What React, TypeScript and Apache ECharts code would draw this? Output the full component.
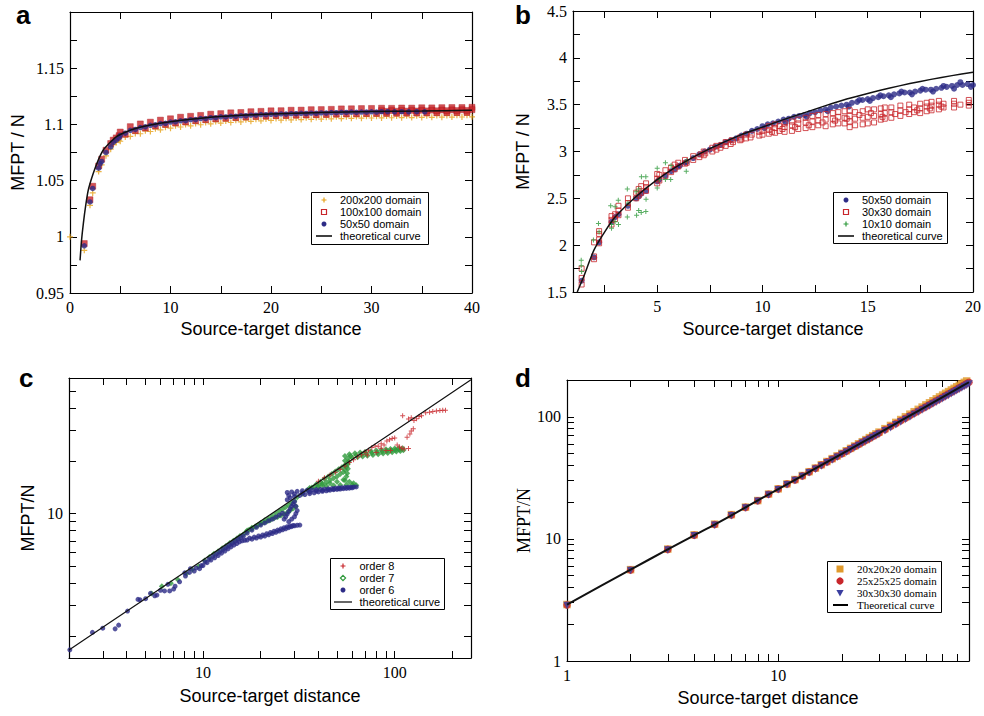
import React, { useEffect, useRef } from 'react';
import * as echarts from 'echarts';

const SANS = 'Liberation Sans, Arial, Helvetica, sans-serif';
const SERIF = 'Liberation Serif, Times New Roman, serif';
const ORANGE = '#e6a117';
const RED = '#c8262b';
const NAVY = '#2c2b86';
const GREEN = '#2f9a3c';
const D_ORANGE = '#e09a2c';
const D_BLUE = '#3a3ea0';
const CROSS = 'path://M2,0L3,0L3,2L5,2L5,3L3,3L3,5L2,5L2,3L0,3L0,2L2,2Z';

// ---------------- Panel a ----------------
const aTheoryX = [1.0, 1.15, 1.33, 1.55, 1.82, 2.3, 2.8, 3.3, 4, 4.6, 5.5, 6.6, 8, 10, 12.5, 15, 20, 25, 30, 35, 40];
const aTheoryY = [0.979, 0.997, 1.012, 1.027, 1.0416, 1.056, 1.068, 1.077, 1.084, 1.089, 1.093, 1.0965, 1.0995, 1.1024, 1.105, 1.107, 1.1093, 1.1105, 1.1115, 1.112, 1.1125];
const aIntX = [5, 6, 7, 8, 9, 10, 11, 12, 13, 14, 15, 16, 17, 18, 19, 20, 21, 22, 23, 24, 25, 26, 27, 28, 29, 30, 31, 32, 33, 34, 35, 36, 37, 38, 39, 40];
const aHalfX = [5.5, 6.5, 7.5, 8.5, 9.5, 10.5, 11.5, 12.5, 13.5, 14.5, 15.5, 16.5, 17.5, 18.5, 19.5, 20.5, 21.5, 22.5, 23.5, 24.5, 25.5, 26.5, 27.5, 28.5, 29.5, 30.5, 31.5, 32.5, 33.5, 34.5, 35.5, 36.5, 37.5, 38.5, 39.5];
const aOrangeInt = [1.0850, 1.0893, 1.0917, 1.0937, 1.0952, 1.0966, 1.0977, 1.0987, 1.0997, 1.1005, 1.1012, 1.1017, 1.1022, 1.1027, 1.1032, 1.1035, 1.1038, 1.1040, 1.1043, 1.1045, 1.1047, 1.1050, 1.1052, 1.1054, 1.1055, 1.1057, 1.1058, 1.1059, 1.1060, 1.1061, 1.1062, 1.1063, 1.1064, 1.1065, 1.1066, 1.1067];
const aOrangeHalf = [1.0888, 1.0920, 1.0943, 1.0961, 1.0975, 1.0988, 1.0998, 1.1008, 1.1017, 1.1025, 1.1030, 1.1036, 1.1041, 1.1046, 1.1049, 1.1053, 1.1055, 1.1058, 1.1060, 1.1062, 1.1064, 1.1067, 1.1069, 1.1070, 1.1072, 1.1073, 1.1074, 1.1075, 1.1076, 1.1077, 1.1078, 1.1079, 1.1080, 1.1081, 1.1082];
const aRedUpper = [1.0932, 1.0980, 1.1004, 1.1020, 1.1038, 1.1050, 1.1064, 1.1072, 1.1080, 1.1091, 1.1096, 1.1103, 1.1106, 1.1113, 1.1116, 1.1121, 1.1122, 1.1126, 1.1127, 1.1131, 1.1132, 1.1134, 1.1138, 1.1139, 1.1141, 1.1142, 1.1144, 1.1143, 1.1146, 1.1145, 1.1148, 1.1147, 1.1149, 1.1150, 1.1150, 1.1152];
const aRedLower = [1.0912, 1.0944, 1.0967, 1.0985, 1.0999, 1.1012, 1.1022, 1.1032, 1.1041, 1.1049, 1.1054, 1.1060, 1.1065, 1.1070, 1.1073, 1.1077, 1.1079, 1.1082, 1.1084, 1.1086, 1.1088, 1.1091, 1.1093, 1.1094, 1.1096, 1.1097, 1.1098, 1.1099, 1.1100, 1.1101, 1.1102, 1.1103, 1.1104, 1.1105, 1.1106];
const aRedMidX = [31, 32, 33, 34, 35, 36, 37, 38, 39, 40, 31.5, 32.5, 33.5, 34.5, 35.5, 36.5, 37.5, 38.5, 39.5];
const aRedMid = [1.1122, 1.1123, 1.1124, 1.1125, 1.1126, 1.1127, 1.1128, 1.1129, 1.1130, 1.1131, 1.1116, 1.1117, 1.1118, 1.1119, 1.1120, 1.1121, 1.1122, 1.1123, 1.1124];
const aNavyInt = [1.0902, 1.0947, 1.0972, 1.0992, 1.1007, 1.1021, 1.1032, 1.1042, 1.1052, 1.1060, 1.1067, 1.1072, 1.1077, 1.1082, 1.1087, 1.1090, 1.1093, 1.1095, 1.1098, 1.1100, 1.1102, 1.1105, 1.1107, 1.1109, 1.1110, 1.1112, 1.1113];
const aNavyHalf = [1.0922, 1.0955, 1.0979, 1.0996, 1.1010, 1.1023, 1.1033, 1.1043, 1.1052, 1.1060, 1.1066, 1.1072, 1.1077, 1.1082, 1.1086, 1.1089, 1.1092, 1.1095, 1.1097, 1.1099, 1.1101, 1.1104, 1.1106, 1.1107, 1.1109, 1.1110];
const aOrangeSmall = [[0, 1.0], [1.42, 0.988], [1.99, 1.028], [2.26, 1.039], [2.85, 1.058], [3.15, 1.064], [3.58, 1.072], [4.05, 1.078], [4.3, 1.082], [4.6, 1.084], [4.88, 1.086]];
const aRedSmall = [[1.42, 0.994], [1.99, 1.033], [2.26, 1.045], [2.85, 1.063], [3.15, 1.069], [3.58, 1.077], [4.05, 1.083], [4.3, 1.086], [4.6, 1.088], [4.88, 1.090]];
const aNavySmall = [[1.42, 0.992], [1.99, 1.031], [2.26, 1.043], [2.85, 1.061], [3.0, 1.065], [3.15, 1.067], [3.58, 1.075], [4.05, 1.080], [4.3, 1.084], [4.6, 1.086], [4.88, 1.088]];
const aNavyTail = [[31.6, 1.1113], [32.3, 1.1112], [33.0, 1.1113], [33.7, 1.1112], [34.5, 1.1113], [35.3, 1.1112]];

// ---------------- Panel b ----------------
const bTheoryX = [1.2, 1.5, 2, 2.5, 3, 4, 5, 6, 7.5, 9, 10, 11, 12, 13, 14, 15, 16, 17, 18, 19, 20];
const bTheoryY = [1.5, 1.66, 1.95, 2.14, 2.30, 2.52, 2.70, 2.85, 3.03, 3.18, 3.26, 3.34, 3.415, 3.49, 3.56, 3.62, 3.675, 3.725, 3.77, 3.81, 3.845];
const bBlue = [[1.41, 1.62], [2.0, 1.87], [2.24, 2.03], [2.83, 2.25], [3.0, 2.30], [3.16, 2.33], [3.61, 2.42], [4.0, 2.50], [4.12, 2.52], [4.24, 2.55], [4.47, 2.58], [5.0, 2.68], [5.1, 2.70], [5.39, 2.74], [5.66, 2.79], [5.83, 2.81], [6.0, 2.84], [6.08, 2.85], [6.32, 2.88], [6.4, 2.89], [6.71, 2.93],
  [7.0, 2.97], [7.25, 3.0], [7.5, 3.02], [7.75, 3.05], [8.0, 3.07], [8.25, 3.1], [8.5, 3.12], [8.75, 3.14], [9.0, 3.17], [9.25, 3.19], [9.5, 3.22], [9.75, 3.24], [10.0, 3.27], [10.25, 3.29], [10.5, 3.3], [10.75, 3.32], [11.0, 3.34], [11.25, 3.35], [11.5, 3.37], [11.75, 3.38], [12.0, 3.39], [12.25, 3.41], [12.5, 3.42], [12.75, 3.44], [13.0, 3.45], [13.25, 3.47], [13.5, 3.48], [13.75, 3.49], [14.0, 3.5], [14.25, 3.52], [14.5, 3.53], [14.75, 3.55], [15.0, 3.56], [15.25, 3.57], [15.5, 3.58], [15.75, 3.59], [16.0, 3.6], [16.25, 3.61], [16.5, 3.62], [16.75, 3.63], [17.0, 3.63], [17.25, 3.64], [17.5, 3.65], [17.75, 3.66], [18.0, 3.66], [18.25, 3.67], [18.5, 3.68], [18.75, 3.69], [19.0, 3.7], [19.25, 3.71], [19.5, 3.71], [19.75, 3.72], [20.0, 3.71],
  [10.1, 3.25], [11.1, 3.31], [12.1, 3.37], [13.1, 3.43], [14.1, 3.48], [15.1, 3.54], [16.1, 3.58], [17.1, 3.61], [18.1, 3.64], [19.1, 3.67], [19.9, 3.69], [14.6, 3.55], [15.6, 3.6], [16.6, 3.64], [17.6, 3.67], [18.6, 3.7], [19.4, 3.74]];
const bRed = [[1.41, 1.58], [1.41, 1.65], [1.41, 1.75], [2.0, 1.85], [2.0, 1.88], [2.0, 2.03], [2.24, 2.02], [2.24, 2.06], [2.24, 2.12], [2.24, 2.15], [2.83, 2.22], [2.83, 2.27], [2.83, 2.31], [3.0, 2.28], [3.0, 2.33], [3.16, 2.32], [3.16, 2.37], [3.16, 2.42], [3.61, 2.40], [3.61, 2.45], [3.61, 2.50], [4.0, 2.50], [4.0, 2.56], [4.12, 2.53], [4.12, 2.60], [4.24, 2.56], [4.24, 2.63], [4.47, 2.58], [4.47, 2.62], [4.47, 2.66], [5.0, 2.66], [5.0, 2.71], [5.0, 2.76], [5.1, 2.69], [5.1, 2.75], [5.39, 2.74], [5.39, 2.80], [5.66, 2.78], [5.66, 2.83], [5.83, 2.81], [5.83, 2.86], [6.0, 2.84], [6.0, 2.88], [6.32, 2.87], [6.32, 2.91], [6.4, 2.88], [6.71, 2.91], [6.71, 2.95],
  [7.0, 2.94], [7.07, 2.97], [7.21, 2.96], [7.21, 3.0], [7.28, 2.98], [7.62, 3.0], [7.62, 3.04], [7.81, 3.02], [7.81, 3.06], [8.0, 3.04], [8.06, 3.07], [8.25, 3.06], [8.25, 3.1], [8.49, 3.08], [8.54, 3.12], [8.6, 3.1], [8.94, 3.12], [8.94, 3.15], [9.0, 3.13], [9.22, 3.14], [9.22, 3.18], [9.43, 3.15], [9.49, 3.18], [9.85, 3.17], [9.85, 3.21], [10.0, 3.18], [10.0, 3.22],
  [10.3, 3.19], [10.3, 3.23], [10.3, 3.27], [10.6, 3.2], [10.6, 3.25], [10.6, 3.29], [10.8, 3.22], [10.8, 3.27], [11.05, 3.21], [11.05, 3.26], [11.05, 3.3], [11.4, 3.22], [11.4, 3.28], [11.4, 3.32], [11.7, 3.24], [11.7, 3.3], [11.7, 3.34], [12.05, 3.25], [12.05, 3.31], [12.05, 3.36], [12.37, 3.26], [12.37, 3.32], [12.37, 3.38], [12.65, 3.28], [12.65, 3.33], [12.65, 3.39], [13.0, 3.27], [13.0, 3.34], [13.0, 3.4], [13.34, 3.29], [13.34, 3.35], [13.34, 3.41], [13.6, 3.3], [13.6, 3.37], [13.6, 3.42], [13.9, 3.3], [13.9, 3.36], [13.9, 3.43], [14.14, 3.26], [14.14, 3.32], [14.14, 3.38], [14.14, 3.44], [14.4, 3.28], [14.4, 3.35], [14.4, 3.42], [14.76, 3.29], [14.76, 3.36], [14.76, 3.43], [15.0, 3.3], [15.0, 3.37], [15.0, 3.45], [15.3, 3.31], [15.3, 3.38], [15.3, 3.45], [15.62, 3.34], [15.62, 3.4], [15.62, 3.46], [15.81, 3.35], [15.81, 3.41], [15.81, 3.47], [16.12, 3.36], [16.12, 3.42], [16.12, 3.47], [16.55, 3.38], [16.55, 3.44], [16.55, 3.49], [16.97, 3.4], [16.97, 3.45], [16.97, 3.5], [17.2, 3.42], [17.2, 3.47], [17.49, 3.41], [17.49, 3.46], [17.49, 3.51], [17.8, 3.43], [17.8, 3.48], [17.8, 3.52], [18.03, 3.44], [18.03, 3.49], [18.03, 3.53], [18.38, 3.45], [18.38, 3.5], [18.38, 3.54], [18.6, 3.47], [18.6, 3.51], [19.1, 3.47], [19.1, 3.51], [19.1, 3.54], [19.8, 3.49], [19.8, 3.52], [19.8, 3.55],
  [10.45, 3.21], [10.95, 3.24], [11.55, 3.26], [12.2, 3.28], [12.85, 3.31], [13.45, 3.33], [14.0, 3.35], [14.6, 3.39], [15.15, 3.41], [15.7, 3.37], [16.3, 3.4], [16.8, 3.42], [17.35, 3.44], [17.95, 3.46], [18.5, 3.48], [19.4, 3.5]];
const bGreen = [[1.39, 1.84], [1.39, 1.78], [1.41, 1.72], [1.97, 2.055], [2.21, 2.23], [2.24, 2.14], [2.79, 2.42], [2.83, 2.22], [2.83, 2.18], [3.0, 2.41], [3.0, 2.25], [3.15, 2.48], [3.16, 2.22], [3.58, 2.60], [3.58, 2.30], [3.61, 2.45], [4.02, 2.32], [4.0, 2.57], [4.12, 2.60], [4.12, 2.37], [4.25, 2.73], [4.24, 2.35], [4.46, 2.73], [4.46, 2.36], [4.47, 2.49], [5.0, 2.82], [5.0, 2.61], [5.1, 2.70], [5.39, 2.88], [5.39, 2.70], [5.64, 2.70], [5.66, 2.85], [6.38, 2.79], [6.4, 2.90]];

// ---------------- Panel c ----------------
const cTheoryX = [2, 5, 10, 20, 50, 100, 250];
const cTheoryY = [1.667, 3.27, 5.44, 9.07, 17.8, 29.6, 58.1];
const cOrder6 = [[2.02, 1.67], [2.65, 2.10], [3.0, 2.22], [3.48, 2.20], [3.63, 2.31], [4.04, 2.78], [4.58, 3.24], [4.7, 3.22], [5.02, 3.27], [5.32, 3.51], [5.6, 3.40], [5.75, 3.43], [6.0, 3.65], [6.3, 3.62], [6.56, 3.95], [6.7, 3.62], [7.03, 3.71], [7.15, 3.85], [7.55, 4.08], [8.03, 4.59], [8.1, 4.40], [8.5, 4.62], [8.6, 4.85], [9.0, 4.70], [9.2, 4.90], [9.6, 4.85], [9.8, 5.05],
  [10, 5.05], [10.5, 5.25], [11, 5.43], [11.5, 5.6], [12, 5.77], [12.5, 5.95], [13, 6.12], [13.5, 6.29], [14, 6.46], [14.5, 6.62], [15, 6.75], [15.5, 6.9], [16, 7.0], [16.5, 7.05],
  [10.25, 5.3], [10.75, 5.5], [11.25, 5.7], [11.75, 5.89], [12.25, 6.07], [12.75, 6.25], [13.25, 6.43], [13.75, 6.62], [14.25, 6.79], [14.75, 6.97], [15.25, 7.15], [15.75, 7.3], [16.25, 7.45],
  [17, 7.07], [18, 7.15], [19, 7.25], [20, 7.35], [21, 7.45], [22, 7.57], [23, 7.7], [24, 7.83], [25, 7.95], [26, 8.08], [27, 8.2], [28, 8.32], [29, 8.43], [30, 8.52], [31, 8.58], [32, 8.6],
  [17.5, 7.25], [18.5, 7.35], [19.5, 7.45], [20.5, 7.55], [21.5, 7.68], [22.5, 7.8], [23.5, 7.93], [24.5, 8.05], [25.5, 8.18], [26.5, 8.3], [27.5, 8.42], [28.5, 8.5], [29.5, 8.55],
  [17, 7.75], [18, 8.05], [19, 8.35], [20, 8.6], [21, 8.85], [22, 9.1], [23, 9.3], [24, 9.55], [25, 9.8], [26, 10.05],
  [26.5, 9.3], [27, 9.6], [27.5, 9.95], [28, 10.3], [28.5, 10.65], [29, 11.0], [29.5, 11.35], [30, 11.7], [28, 9.0], [29, 9.3], [30, 9.6], [30.5, 10.0], [31, 10.4], [30.5, 11.0],
  [27.5, 12.0], [28.5, 12.3], [30, 12.5], [32, 12.7], [34, 12.85], [36, 13.0], [38, 13.15], [40, 13.3], [42, 13.4], [44, 13.5], [46, 13.6], [48, 13.7], [50, 13.75], [52, 13.82], [54, 13.88], [56, 13.93], [58, 13.98], [60, 14.03],
  [27.5, 13.2], [29, 13.3], [31, 13.4], [33, 13.5], [35, 13.6], [37, 13.65], [39, 13.7], [41, 13.75], [43, 13.8], [45, 13.85], [47, 13.9], [49, 13.95], [51, 14.0], [53, 14.05], [55, 14.1], [57, 14.12], [59, 14.15], [61, 14.17], [63, 14.2],
  [28, 12.7], [30, 12.95], [33, 13.1], [36, 13.3], [39, 13.45], [42, 13.57], [45, 13.68], [48, 13.8], [51, 13.88]];
const cOrder7 = [[5.4, 3.5], [6.1, 3.85], [6.8, 4.0], [7.4, 4.2], [8.2, 4.55], [8.8, 4.8], [9.5, 5.0], [10.2, 5.4], [10.8, 5.65], [11.4, 5.9], [12, 6.1], [12.6, 6.35], [13.2, 6.55], [13.8, 6.8], [14.4, 7.0], [15, 7.2], [15.6, 7.45], [16.2, 7.6], [16.8, 7.85],
  [17.4, 8.1], [18, 8.3], [18.7, 8.45], [19.4, 8.6], [20, 8.75], [20.8, 8.9], [21.6, 9.05], [22.5, 9.2], [23.5, 9.4], [24.5, 9.55], [25.5, 9.75], [26.5, 9.95], [27.5, 10.15], [28.5, 10.4], [29.5, 10.7], [30.5, 11.0],
  [17, 8.0], [18, 8.2], [19, 8.5], [20, 8.85], [21, 9.15], [22, 9.4], [23, 9.7], [24, 10.0], [25, 10.3], [26, 10.6], [27, 10.9], [28, 11.2], [29, 11.5], [30, 11.8],
  [31, 12.4], [33, 13.0], [35, 13.6], [37, 14.1], [39, 14.7], [41, 15.2], [43, 15.8], [45, 16.3], [47, 16.8], [49, 17.4], [51, 17.9], [53, 18.4], [55, 18.9],
  [38, 14.2], [40, 14.5], [42, 14.8], [44, 15.1], [46, 15.5], [48, 15.9], [50, 16.3], [52, 16.8], [54, 17.3], [55, 17.8], [56, 18.5], [57, 19.2], [57.5, 19.8],
  [36, 14.0], [40, 14.2], [44, 14.35], [48, 14.45], [52, 14.55], [56, 14.6], [60, 14.6], [63, 14.5],
  [42, 14.5], [46, 14.9], [50, 15.2], [54, 15.6], [58, 15.2], [61, 14.9], [55, 15.5], [56, 16.3], [56.5, 17.0], [57, 18.0], [55.5, 19.0], [55, 20.0],
  [55, 21.3], [58, 21.8], [62, 22.1], [66, 22.3], [70, 22.5], [75, 22.7], [80, 22.9], [85, 23.1], [90, 23.3], [95, 23.4], [100, 23.5], [105, 23.6], [110, 23.6],
  [57, 20.6], [60, 20.8], [64, 21.0], [68, 21.2], [72, 21.4], [77, 21.6], [82, 21.8], [87, 22.0], [92, 22.2], [97, 22.4], [102, 22.6], [107, 22.8], [111, 23.0],
  [59, 21.3], [63, 21.55], [67, 21.75], [71, 21.95], [76, 22.15], [81, 22.35], [86, 22.55], [91, 22.75], [96, 22.9], [101, 23.05], [106, 23.2]];
const cOrder8 = [[40, 15.3], [43, 16.0], [46, 16.6], [49, 17.2], [52, 17.9], [55, 18.7], [58, 19.6], [61, 20.3], [64, 21.1], [67, 21.7], [70, 22.4], [73, 23.0], [76, 23.8], [79, 24.3], [82, 24.2], [85, 25.0], [88, 24.6], [91, 26.0], [94, 26.4], [97, 26.8], [100, 27.0], [103, 24.6], [106, 24.0], [109, 23.6], [112, 23.4], [118, 23.5], [116, 27.3], [120, 28.5], [122, 29.6], [125, 30.5], [110, 36.2], [118, 34.7], [122, 35.2], [126, 34.0], [130, 34.8], [134, 35.8], [138, 36.2], [145, 37.6], [152, 37.9], [158, 38.2], [165, 38.5], [172, 38.7], [178, 38.9], [184, 38.9], [80, 22.3], [90, 22.9], [95, 22.9], [85, 23.6], [72, 21.6]];

// ---------------- Panel d ----------------
const dX = [1, 2, 3, 4, 5, 6, 7, 8, 9, 10, 11, 12, 13, 14, 15, 16, 17, 18, 19, 20, 21, 22, 23, 24, 25, 26, 27, 28, 29, 30, 32, 34, 36, 38, 40, 42, 44, 46, 48, 50, 52, 54, 56, 58, 60, 62, 64, 66, 68, 70, 72, 74, 76, 78, 80];
const d20 = [2.9, 5.6, 8.25, 10.8, 13.2, 15.8, 18.2, 20.6, 23.3, 25.7, 28.2, 30.6, 33.0, 35.5, 38.0, 40.5, 43.0, 45.4, 47.8, 50.2, 52.7, 55.1, 57.6, 60.1, 62.5, 65.0, 67.5, 70.0, 72.4, 74.9, 79.9, 84.9, 89.9, 94.9, 99.9, 105, 110, 115, 120, 125, 130.1, 135.2, 140.3, 145.4, 150.5, 155.6, 160.7, 165.8, 170.9, 176, 181.1, 186.2, 191.3, 196.4, 201];
const d25 = [2.87, 5.55, 8.2, 10.7, 13.1, 15.7, 18.1, 20.5, 23.2, 25.6, 28.1, 30.4, 32.8, 35.3, 37.8, 40.2, 42.7, 45.1, 47.4, 49.8, 52.2, 54.6, 57.0, 59.4, 61.8, 64.1, 66.5, 68.9, 71.2, 73.6, 78.3, 83.1, 87.8, 92.6, 97.3, 102, 106.8, 111.5, 116.2, 121, 125.7, 130.4, 135.1, 139.9, 144.6, 149.3, 154, 158.7, 163.4, 168.2, 172.9, 177.6, 182.3, 187, 191.7];
const d30 = [2.85, 5.5, 8.12, 10.6, 12.95, 15.5, 17.9, 20.3, 22.9, 25.3, 27.7, 30.0, 32.4, 34.8, 37.2, 39.6, 42.0, 44.3, 46.6, 49.0, 51.3, 53.6, 55.9, 58.3, 60.6, 62.9, 65.2, 67.5, 69.8, 72.1, 76.7, 81.3, 85.9, 90.5, 95.1, 99.7, 104.3, 108.8, 113.4, 118, 122.5, 127, 131.5, 136, 140.6, 145.1, 149.6, 154.1, 158.6, 163.1, 167.6, 172.1, 176.6, 181.1, 185.6];
const dTheoryX = [1, 2, 3, 4, 5, 7, 10, 15, 20, 30, 40, 50, 60, 70, 80];
const dTheoryY = [2.9, 5.6, 8.2, 10.7, 13.1, 18.1, 25.6, 37.7, 49.7, 73.6, 97.3, 121, 144.6, 168.2, 191.7];

// tick lists
const bXTicks = [2.5, 5, 7.5, 10, 12.5, 15, 17.5, 20];
const bXLabels = [5, 10, 15, 20];
const cXTicks = [3, 4, 5, 6, 7, 8, 9, 10, 20, 30, 40, 50, 60, 70, 80, 90, 100, 200];
const cXLabels = [10, 100];
const cYTicks = [2, 3, 4, 5, 6, 7, 8, 9, 10, 20, 30, 40, 50];
const cYLabels = [10];
const dXTicks = [2, 3, 4, 5, 6, 7, 8, 9, 10, 20, 30, 40, 50, 60, 70];
const dXLabels = [1, 10];
const dYTicks = [2, 3, 4, 5, 6, 7, 8, 9, 10, 20, 30, 40, 50, 60, 70, 80, 90, 100];
const dYLabels = [1, 10, 100];

const zip = (xs: number[], ys: number[]) => ys.map((y, i) => [xs[i], y]);

const axLine = { show: true, onZero: false, lineStyle: { color: '#000', width: 1.2 } };
const tick = (extra: any = {}) => ({ show: true, inside: true, length: 7, lineStyle: { color: '#000', width: 1 }, ...extra });
const noLab = { show: false };
const lab = (extra: any) => ({ show: true, color: '#000', fontFamily: 'Liberation Serif', fontSize: 16, margin: 6, ...extra });
const nameStyle = (serif = false) => ({ fontFamily: serif ? 'Liberation Serif' : 'Liberation Sans', fontSize: 18, color: '#000' });

function legend(box: number[], rows: number[], symX: number, textX: number, lineX: number[], items: any[], font: string, lineW: number) {
  const els: any[] = [];
  els.push({ type: 'rect', z: 50, shape: { x: box[0], y: box[1], width: box[2], height: box[3] }, style: { fill: '#fff', stroke: '#000', lineWidth: 1 } });
  items.forEach((it, i) => {
    const cy = rows[i];
    const [kind, color, text] = it;
    const cx = symX;
    if (kind === 'plus') {
      els.push({ type: 'polygon', z: 51, shape: { points: [[cx - 0.6, cy - 2.5], [cx + 0.6, cy - 2.5], [cx + 0.6, cy - 0.6], [cx + 2.5, cy - 0.6], [cx + 2.5, cy + 0.6], [cx + 0.6, cy + 0.6], [cx + 0.6, cy + 2.5], [cx - 0.6, cy + 2.5], [cx - 0.6, cy + 0.6], [cx - 2.5, cy + 0.6], [cx - 2.5, cy - 0.6], [cx - 0.6, cy - 0.6]] }, style: { fill: color } });
    } else if (kind === 'sq') {
      els.push({ type: 'rect', z: 51, shape: { x: cx - 2.5, y: cy - 2.5, width: 5, height: 5 }, style: { fill: 'none', stroke: color, lineWidth: 1.2 } });
    } else if (kind === 'dot') {
      els.push({ type: 'circle', z: 51, shape: { cx, cy, r: 2.5 }, style: { fill: color } });
    } else if (kind === 'diamond') {
      els.push({ type: 'polygon', z: 51, shape: { points: [[cx, cy - 2.6], [cx + 2.6, cy], [cx, cy + 2.6], [cx - 2.6, cy]] }, style: { fill: 'none', stroke: color, lineWidth: 1.2 } });
    } else if (kind === 'square') {
      els.push({ type: 'rect', z: 51, shape: { x: cx - 3.5, y: cy - 3.5, width: 7, height: 7 }, style: { fill: color } });
    } else if (kind === 'circle') {
      els.push({ type: 'circle', z: 51, shape: { cx, cy, r: 3.6 }, style: { fill: color } });
    } else if (kind === 'tri') {
      els.push({ type: 'polygon', z: 51, shape: { points: [[cx - 3.6, cy - 3], [cx + 3.6, cy - 3], [cx, cy + 3.6]] }, style: { fill: color } });
    } else if (kind === 'line') {
      els.push({ type: 'line', z: 51, shape: { x1: lineX[0], y1: cy, x2: lineX[1], y2: cy }, style: { stroke: '#000', lineWidth: lineW } });
    }
    els.push({ type: 'text', z: 52, style: { text, x: textX, y: cy, font, fill: '#000', verticalAlign: 'middle', textVerticalAlign: 'middle' } });
  });
  return els;
}

const panelLabel = (t: string, x: number, y: number) => ({ type: 'text', z: 60, style: { text: t, x, y, font: `bold 26px ${SANS}`, fill: '#000', verticalAlign: 'middle', textVerticalAlign: 'middle' } });

export default function App() {
  const ref = useRef<HTMLDivElement>(null);
  useEffect(() => {
    document.body.style.margin = '0';
    if (!ref.current) return;
    const chart = echarts.init(ref.current, undefined, { renderer: 'svg' });
    const fmtA = (v: number) => { const k = Math.round(v * 1000); return k % 50 === 0 && k !== 1200 ? String(Math.round(v * 100) / 100) : ''; };
    const fmtB = (v: number) => { const k = Math.round(v * 100); return k % 50 === 0 ? String(Math.round(v * 10) / 10) : ''; };
    const fmtInt = (v: number) => String(Math.round(v));

    const xAxis: any[] = [
      { type: 'value', gridIndex: 0, position: 'bottom', min: 0, max: 40, interval: 5, axisLine: axLine, axisTick: tick(), splitLine: { show: false }, axisLabel: lab({ formatter: (v: number) => (Math.round(v) % 10 === 0 ? String(Math.round(v)) : '') }), name: 'Source-target distance', nameLocation: 'middle', nameGap: 27, nameTextStyle: nameStyle() },
      { type: 'value', gridIndex: 0, position: 'top', min: 0, max: 40, interval: 5, axisLine: axLine, axisTick: tick(), splitLine: { show: false }, axisLabel: noLab },
      { type: 'value', gridIndex: 1, position: 'bottom', min: 1, max: 20, axisLine: axLine, axisTick: tick({ customValues: bXTicks }), splitLine: { show: false }, axisLabel: lab({ customValues: bXLabels, formatter: fmtInt }), name: 'Source-target distance', nameLocation: 'middle', nameGap: 28, nameTextStyle: nameStyle() },
      { type: 'value', gridIndex: 1, position: 'top', min: 1, max: 20, axisLine: axLine, axisTick: tick({ customValues: bXTicks }), splitLine: { show: false }, axisLabel: noLab },
      { type: 'log', logBase: 10, gridIndex: 2, position: 'bottom', min: 2, max: 250, axisLine: axLine, axisTick: tick({ customValues: cXTicks }), splitLine: { show: false }, minorTick: { show: false }, axisLabel: lab({ customValues: cXLabels, formatter: fmtInt }), name: 'Source-target distance', nameLocation: 'middle', nameGap: 29, nameTextStyle: nameStyle() },
      { type: 'log', logBase: 10, gridIndex: 2, position: 'top', min: 2, max: 250, axisLine: axLine, axisTick: tick({ customValues: cXTicks }), splitLine: { show: false }, axisLabel: noLab },
      { type: 'log', logBase: 10, gridIndex: 3, position: 'bottom', min: 1, max: 80, axisLine: axLine, axisTick: tick({ customValues: dXTicks }), splitLine: { show: false }, axisLabel: lab({ customValues: dXLabels, formatter: fmtInt }), name: 'Source-target distance', nameLocation: 'middle', nameGap: 28, nameTextStyle: nameStyle() },
      { type: 'log', logBase: 10, gridIndex: 3, position: 'top', min: 1, max: 80, axisLine: axLine, axisTick: tick({ customValues: dXTicks }), splitLine: { show: false }, axisLabel: noLab },
    ];
    const yAxis: any[] = [
      { type: 'value', gridIndex: 0, position: 'left', min: 0.95, max: 1.2, interval: 0.025, axisLine: axLine, axisTick: tick(), splitLine: { show: false }, axisLabel: lab({ formatter: fmtA }), name: 'MFPT / N', nameLocation: 'middle', nameGap: 43, nameTextStyle: nameStyle() },
      { type: 'value', gridIndex: 0, position: 'right', min: 0.95, max: 1.2, interval: 0.025, axisLine: axLine, axisTick: tick(), splitLine: { show: false }, axisLabel: noLab },
      { type: 'value', gridIndex: 1, position: 'left', min: 1.5, max: 4.5, interval: 0.25, axisLine: axLine, axisTick: tick(), splitLine: { show: false }, axisLabel: lab({ formatter: fmtB }), name: 'MFPT / N', nameLocation: 'middle', nameGap: 41, nameTextStyle: nameStyle() },
      { type: 'value', gridIndex: 1, position: 'right', min: 1.5, max: 4.5, interval: 0.25, axisLine: axLine, axisTick: tick(), splitLine: { show: false }, axisLabel: noLab },
      { type: 'log', logBase: 10, gridIndex: 2, position: 'left', min: 1.5, max: 59.4, axisLine: axLine, axisTick: tick({ customValues: cYTicks }), splitLine: { show: false }, axisLabel: lab({ customValues: cYLabels, formatter: fmtInt }), name: 'MFPT/N', nameLocation: 'middle', nameGap: 32, nameTextStyle: nameStyle() },
      { type: 'log', logBase: 10, gridIndex: 2, position: 'right', min: 1.5, max: 59.4, axisLine: axLine, axisTick: tick({ customValues: cYTicks }), splitLine: { show: false }, axisLabel: noLab },
      { type: 'log', logBase: 10, gridIndex: 3, position: 'left', min: 1, max: 200, axisLine: axLine, axisTick: tick({ customValues: dYTicks }), splitLine: { show: false }, axisLabel: lab({ customValues: dYLabels, formatter: fmtInt }), name: 'MFPT/N', nameLocation: 'middle', nameGap: 34, nameTextStyle: nameStyle(true) },
      { type: 'log', logBase: 10, gridIndex: 3, position: 'right', min: 1, max: 200, axisLine: axLine, axisTick: tick({ customValues: dYTicks }), splitLine: { show: false }, axisLabel: noLab },
    ];

    const sc = (name: string, gi: number, data: any[], symbol: string, size: number, itemStyle: any, extra: any = {}) => ({
      type: 'scatter', name, xAxisIndex: gi * 2, yAxisIndex: gi * 2, data, symbol, symbolSize: size, itemStyle, silent: true, ...extra,
    });
    const ln = (name: string, gi: number, data: any[], width: number) => ({
      type: 'line', name, xAxisIndex: gi * 2, yAxisIndex: gi * 2, data, showSymbol: false, smooth: 0.25, silent: true, lineStyle: { color: '#111', width }, z: 5,
    });
    const hollow = (c: string) => ({ color: 'rgba(0,0,0,0)', borderColor: c, borderWidth: 1 });

    const series: any[] = [
      sc('200x200 domain', 0, [...aOrangeSmall, ...zip(aIntX, aOrangeInt), ...zip(aHalfX, aOrangeHalf)], CROSS, 6, { color: ORANGE }),
      sc('100x100 domain', 0, [...aRedSmall, ...zip(aIntX, aRedUpper), ...zip(aHalfX, aRedLower), ...zip(aRedMidX, aRedMid)], 'rect', 6, { color: RED, borderColor: '#b01e24', borderWidth: 0.5 }),
      sc('50x50 domain', 0, [...aNavySmall, ...zip(aIntX, aNavyInt), ...zip(aHalfX, aNavyHalf), ...aNavyTail], 'circle', 5.5, { color: NAVY }),
      ln('theoretical curve', 0, zip(aTheoryX, aTheoryY), 1.5),

      sc('50x50 domain', 1, bBlue, 'circle', 6, { color: NAVY }),
      sc('30x30 domain', 1, bRed, 'rect', 5, hollow(RED)),
      sc('10x10 domain', 1, bGreen, CROSS, 5, { color: GREEN }),
      ln('theoretical curve', 1, zip(bTheoryX, bTheoryY), 1.5),

      sc('order 7', 2, cOrder7, 'diamond', 6, { color: GREEN }),
      sc('order 6', 2, cOrder6, 'circle', 5, { color: NAVY }),
      sc('order 8', 2, cOrder8, CROSS, 5, { color: RED }),
      ln('theoretical curve', 2, zip(cTheoryX, cTheoryY), 1.2),

      sc('20x20x20 domain', 3, zip(dX, d20), 'rect', 7.5, { color: D_ORANGE }),
      sc('25x25x25 domain', 3, zip(dX, d25), 'circle', 7.5, { color: RED }),
      sc('30x30x30 domain', 3, zip(dX, d30), 'triangle', 7.5, { color: D_BLUE }, { symbolRotate: 180 }),
      ln('Theoretical curve', 3, zip(dTheoryX, dTheoryY), 2),
    ];

    const fontL = `11px ${SANS}`;
    const graphic: any[] = [
      ...legend([311.5, 192.5, 117, 52], [200, 212, 224, 236], 324, 340, [316, 332],
        [['plus', ORANGE, '200x200 domain'], ['sq', RED, '100x100 domain'], ['dot', NAVY, '50x50 domain'], ['line', '#000', 'theoretical curve']], fontL, 1.5),
      ...legend([833.5, 192.5, 114, 51], [200, 212, 224, 236], 846, 862, [838, 854],
        [['dot', NAVY, '50x50 domain'], ['sq', RED, '30x30 domain'], ['plus', GREEN, '10x10 domain'], ['line', '#000', 'theoretical curve']], fontL, 1.5),
      ...legend([330.5, 558.5, 114, 51], [566, 578, 590, 602], 343, 359.5, [334, 352],
        [['plus', RED, 'order 8'], ['diamond', GREEN, 'order 7'], ['dot', NAVY, 'order 6'], ['line', '#000', 'theoretical curve']], fontL, 1.2),
      ...legend([827.5, 561.5, 114, 51], [569, 581, 593, 605], 840, 857, [833, 848],
        [['square', D_ORANGE, '20x20x20 domain'], ['circle', RED, '25x25x25 domain'], ['tri', D_BLUE, '30x30x30 domain'], ['line', '#000', 'Theoretical curve']], `11px ${SERIF}`, 2),
      panelLabel('a', 16, 15),
      panelLabel('b', 515, 15),
      panelLabel('c', 19, 378),
      panelLabel('d', 515, 378),
    ];

    chart.setOption({
      animation: false,
      backgroundColor: '#fff',
      grid: [
        { left: 70, top: 12, width: 402, height: 281 },
        { left: 573, top: 11, width: 401, height: 281 },
        { left: 69, top: 378, width: 402, height: 280 },
        { left: 567, top: 380, width: 402, height: 281 },
      ],
      xAxis,
      yAxis,
      series,
      graphic,
    });
    return () => chart.dispose();
  }, []);
  return <div ref={ref} style={{ width: 984, height: 716 }} />;
}
